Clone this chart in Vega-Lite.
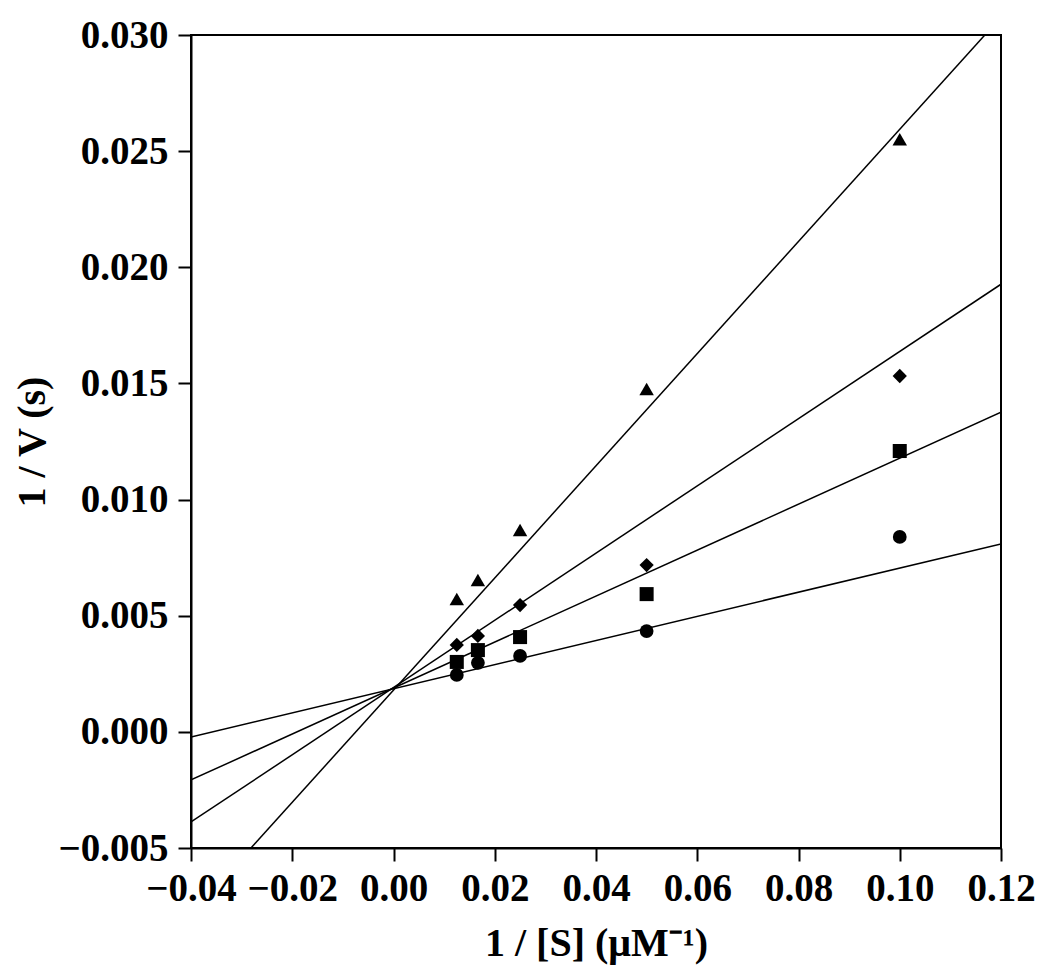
{
  "$schema": "https://vega.github.io/schema/vega-lite/v6.json",
  "width": 810,
  "height": 813,
  "autosize": {"type": "none"},
  "padding": {"left": 191, "top": 35, "right": 49, "bottom": 130},
  "background": "white",
  "config": {
    "view": {"stroke": "black", "strokeWidth": 2},
    "axis": {
      "grid": false,
      "labelFont": "Liberation Serif",
      "labelFontWeight": "bold",
      "labelFontSize": 39,
      "labelColor": "black",
      "titleFont": "Liberation Serif",
      "titleFontWeight": "bold",
      "titleFontSize": 40,
      "titleColor": "black",
      "tickColor": "black",
      "tickSize": 13,
      "tickWidth": 2,
      "domainColor": "black",
      "domainWidth": 2,
      "labelFlush": false,
      "labelOverlap": false
    }
  },
  "datasets": {
    "points": [
      {"series": "triangle", "x": 0.0125, "y": 0.00572},
      {"series": "triangle", "x": 0.01667, "y": 0.00654},
      {"series": "triangle", "x": 0.025, "y": 0.00869},
      {"series": "triangle", "x": 0.05, "y": 0.01476},
      {"series": "triangle", "x": 0.1, "y": 0.02551},
      {"series": "diamond", "x": 0.0125, "y": 0.00374},
      {"series": "diamond", "x": 0.01667, "y": 0.00413},
      {"series": "diamond", "x": 0.025, "y": 0.00546},
      {"series": "diamond", "x": 0.05, "y": 0.00718},
      {"series": "diamond", "x": 0.1, "y": 0.01532},
      {"series": "square", "x": 0.0125, "y": 0.00301},
      {"series": "square", "x": 0.01667, "y": 0.00352},
      {"series": "square", "x": 0.025, "y": 0.00408},
      {"series": "square", "x": 0.05, "y": 0.00593},
      {"series": "square", "x": 0.1, "y": 0.01209},
      {"series": "circle", "x": 0.0125, "y": 0.00245},
      {"series": "circle", "x": 0.01667, "y": 0.00297},
      {"series": "circle", "x": 0.025, "y": 0.00327},
      {"series": "circle", "x": 0.05, "y": 0.00434},
      {"series": "circle", "x": 0.1, "y": 0.00839}
    ],
    "fits": [
      {"series": "circle", "x": -0.04, "y": -0.00022},
      {"series": "circle", "x": 0.12, "y": 0.00809},
      {"series": "square", "x": -0.04, "y": -0.00207},
      {"series": "square", "x": 0.12, "y": 0.01376},
      {"series": "diamond", "x": -0.04, "y": -0.00388},
      {"series": "diamond", "x": 0.12, "y": 0.01927},
      {"series": "triangle", "x": -0.04, "y": -0.00786},
      {"series": "triangle", "x": 0.12, "y": 0.03077}
    ]
  },
  "encoding": {
    "x": {
      "field": "x",
      "type": "quantitative",
      "scale": {"domain": [-0.04, 0.12], "nice": false, "zero": false},
      "axis": {
        "values": [-0.04, -0.02, 0, 0.02, 0.04, 0.06, 0.08, 0.1, 0.12],
        "format": ".2f",
        "labelPadding": 8,
        "title": "1 / [S] (μM⁻¹)",
        "titlePadding": 15
      }
    },
    "y": {
      "field": "y",
      "type": "quantitative",
      "scale": {"domain": [-0.005, 0.03], "nice": false, "zero": false},
      "axis": {
        "values": [-0.005, 0, 0.005, 0.01, 0.015, 0.02, 0.025, 0.03],
        "format": ".3f",
        "labelPadding": 10,
        "title": "1 / V (s)",
        "titlePadding": 6
      }
    }
  },
  "layer": [
    {
      "data": {"name": "fits"},
      "mark": {"type": "line", "color": "black", "strokeWidth": 1.5, "clip": true},
      "encoding": {"detail": {"field": "series"}}
    },
    {
      "data": {"values": [{}]},
      "mark": {"type": "rule", "color": "black", "strokeWidth": 1.5},
      "encoding": {"x": {"datum": 0, "type": "quantitative"}, "y": null}
    },
    {
      "data": {"name": "points"},
      "mark": {"type": "point", "filled": true, "color": "black", "opacity": 1},
      "encoding": {
        "shape": {
          "field": "series",
          "type": "nominal",
          "scale": {"domain": ["circle", "square", "diamond", "triangle"], "range": ["circle", "square", "diamond", "triangle-up"]},
          "legend": null
        },
        "size": {
          "field": "series",
          "type": "nominal",
          "scale": {"domain": ["circle", "square", "diamond", "triangle"], "range": [190, 210, 150, 220]},
          "legend": null
        }
      }
    }
  ]
}
